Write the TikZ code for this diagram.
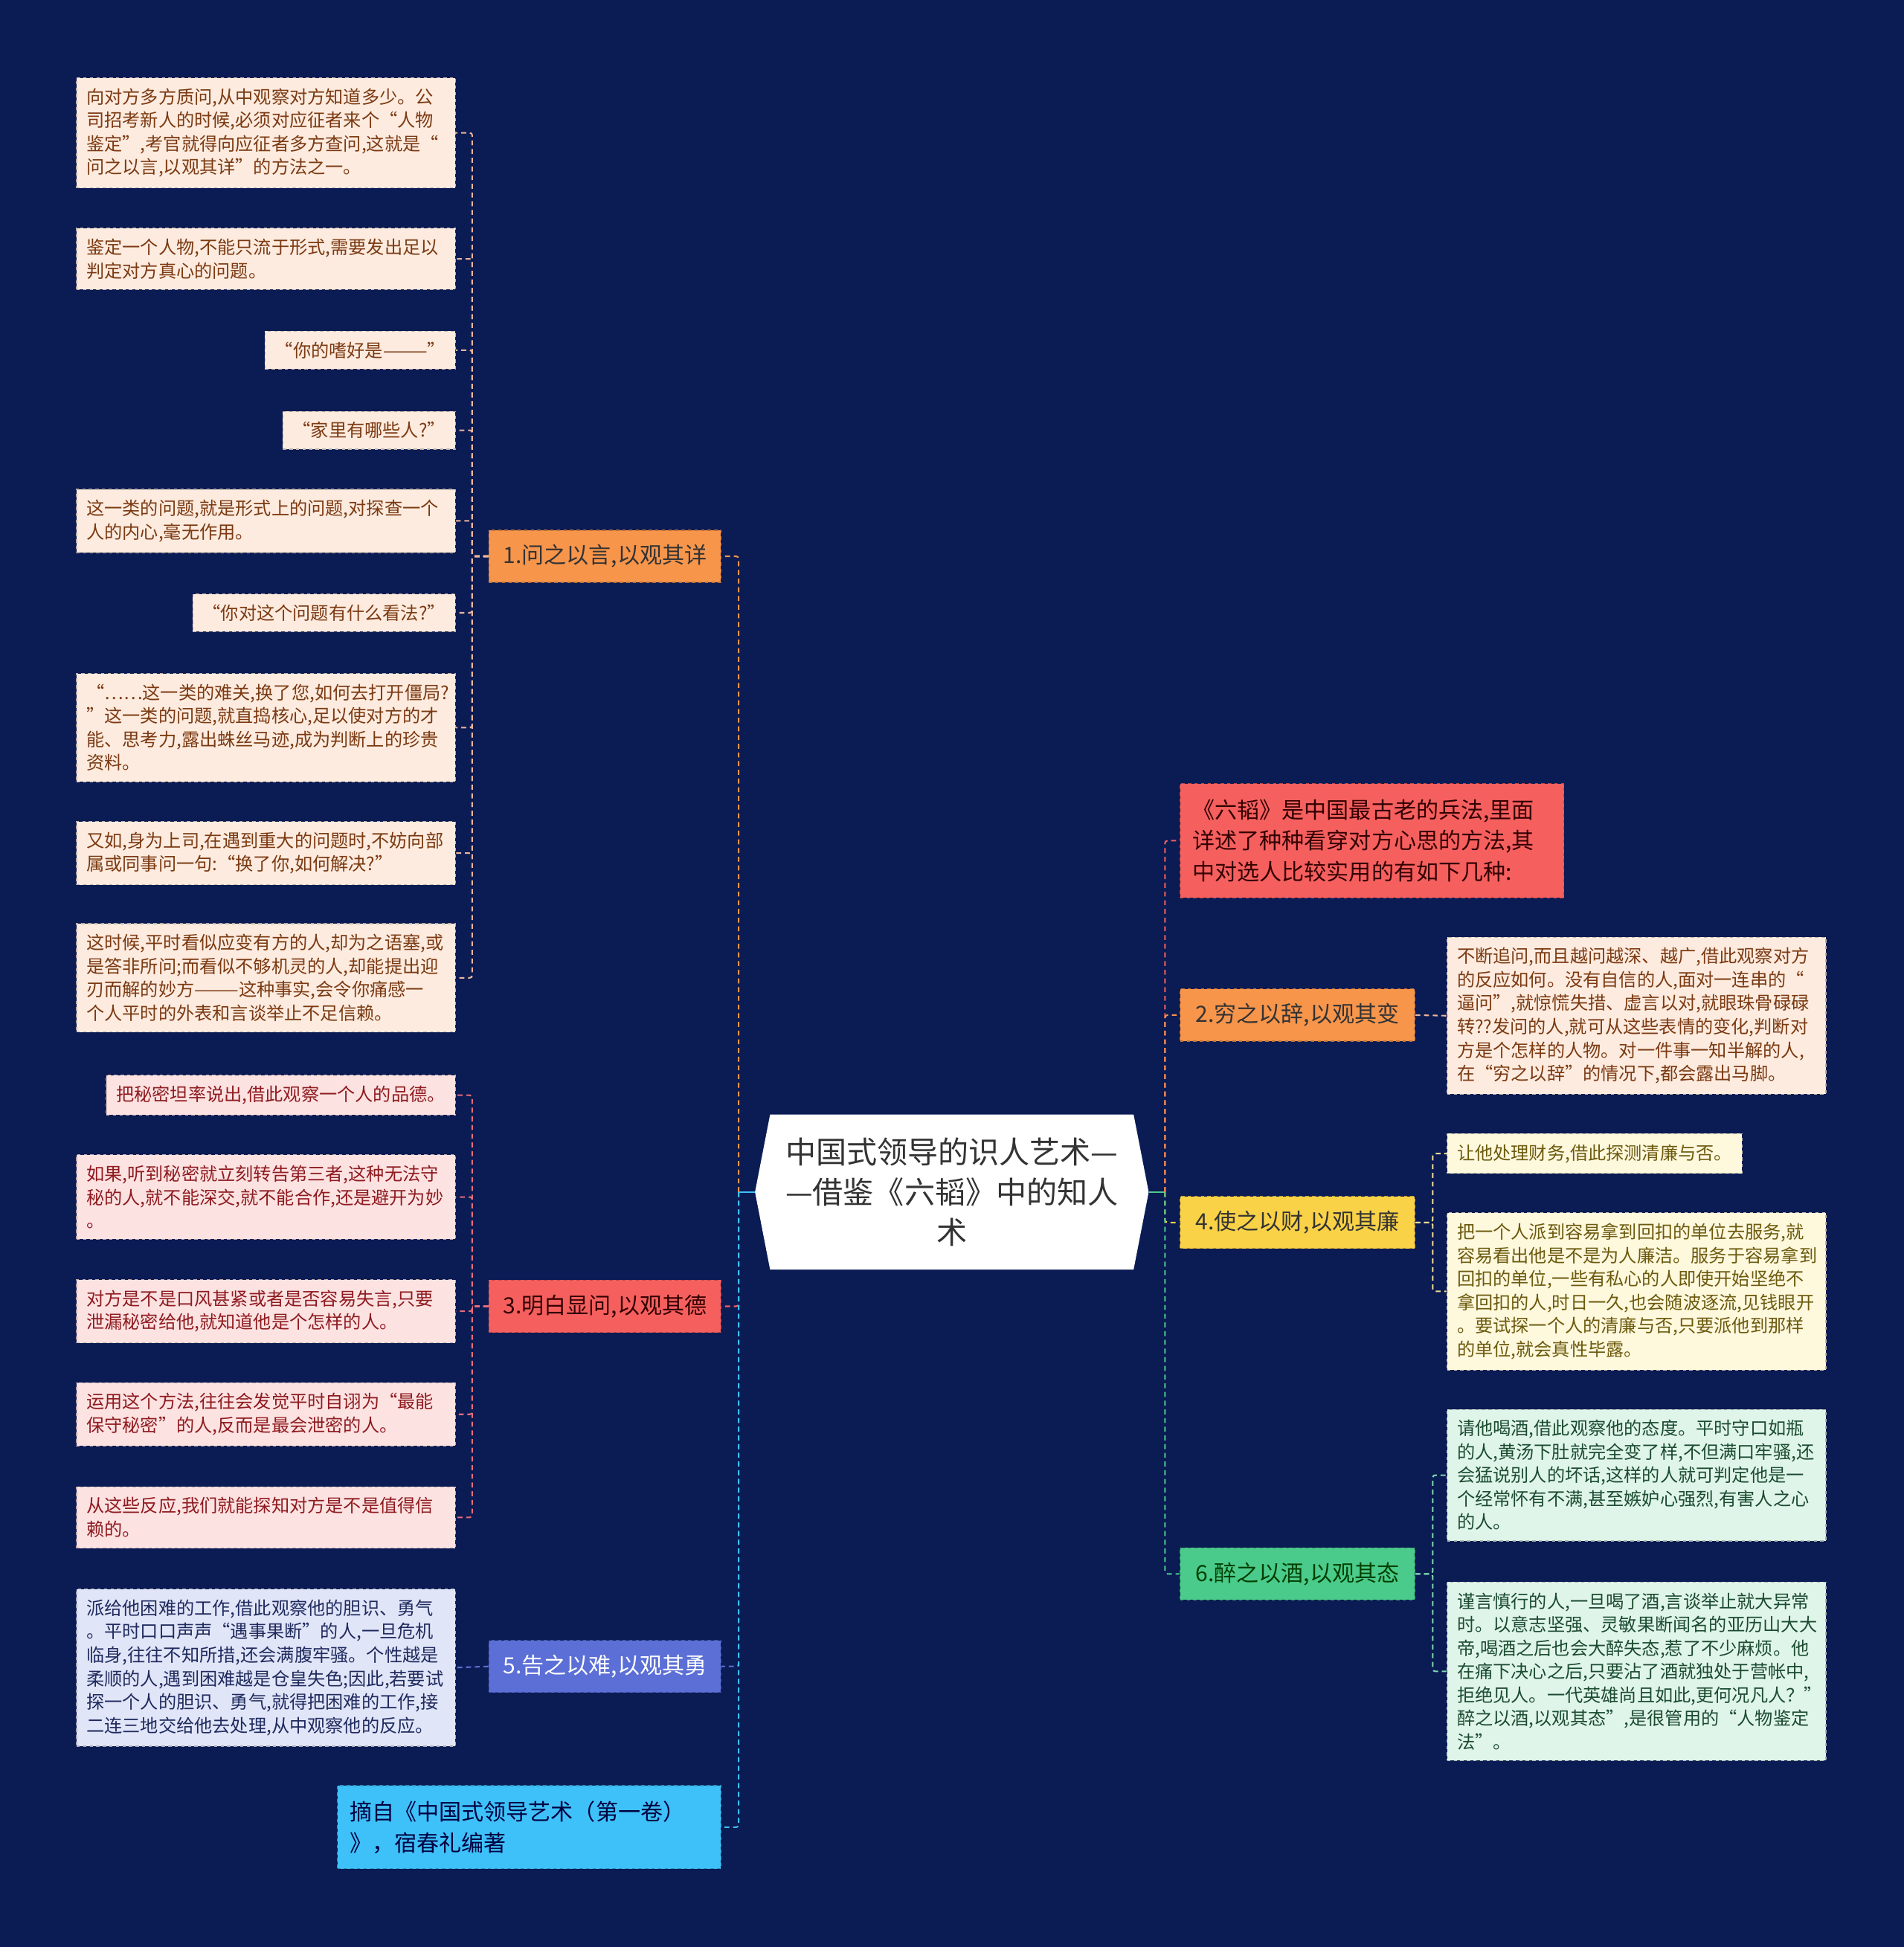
\documentclass[tikz,border=0pt]{standalone}
\usepackage{fontspec}
\setmainfont{Noto Sans CJK SC}
\usetikzlibrary{shapes.symbols}

\definecolor{bgnavy}{HTML}{0B1B54}
\definecolor{peachfill}{HTML}{FDEBDF}
\definecolor{peachtext}{HTML}{7B3A12}
\definecolor{peachlink}{HTML}{E9B59A}
\definecolor{pinkfill}{HTML}{FDE2E2}
\definecolor{pinktext}{HTML}{8E1B1F}
\definecolor{pinklink}{HTML}{E56D7B}
\definecolor{lavfill}{HTML}{E1E5F8}
\definecolor{lavtext}{HTML}{1F2B5E}
\definecolor{creamfill}{HTML}{FEF8DD}
\definecolor{creamtext}{HTML}{6C5A0E}
\definecolor{creamlink}{HTML}{F3DE95}
\definecolor{mintfill}{HTML}{E0F5EA}
\definecolor{minttext}{HTML}{1B4B30}
\definecolor{mintlink}{HTML}{7FD8B0}
\definecolor{orangeb}{HTML}{F7954B}
\definecolor{redb}{HTML}{F5605F}
\definecolor{blueb}{HTML}{5B6FD6}
\definecolor{skyb}{HTML}{3EC1F8}
\definecolor{yellowb}{HTML}{F9D247}
\definecolor{greenb}{HTML}{4BCB8B}
\definecolor{roottext}{HTML}{333333}

\newcommand\leaffont{\fontsize{16.5pt}{21.5pt}\selectfont}
\newcommand\branchfont{\fontsize{20.5pt}{28.4pt}\selectfont}
\newcommand\rootfont{\fontsize{28pt}{37pt}\selectfont}

\begin{document}
\begin{tikzpicture}[x=0.4mm, y=-0.4mm,
    leaf/.style={rectangle, dashed, line width=0.8pt, inner xsep=3.2mm, inner ysep=3.4mm, align=left, font=\leaffont},
    wide/.style={text width=115.6mm},
    peach/.style={fill=peachfill, draw=peachfill!75!black, text=peachtext},
    pink/.style={fill=pinkfill, draw=pinkfill!75!black, text=pinktext},
    lav/.style={fill=lavfill, draw=lavfill!75!black, text=lavtext},
    cream/.style={fill=creamfill, draw=creamfill!75!black, text=creamtext},
    mint/.style={fill=mintfill, draw=mintfill!75!black, text=minttext},
    branch/.style={rectangle, dashed, line width=0.8pt, minimum height=16.8mm, inner xsep=3.6mm, font=\branchfont},
    link/.style={dash pattern=on 1.6mm off 1.2mm, line width=1.4pt, rounded corners=0.8mm}]

    % Background
    \fill[bgnavy] (0,0) rectangle (1533,1568);
    \useasboundingbox (0,0) rectangle (1533,1568);

    % Central topic
    \node[signal, signal to=west and east, signal pointer angle=158, fill=white, minimum width=126.8mm, minimum height=50mm, inner sep=0pt, align=center, font=\rootfont, text=roottext] (root) at (766.5,960) {中国式领导的识人艺术—\\—借鉴《六韬》中的知人\\术};

    % Left branches
    \node[branch, fill=orangeb, draw=orangeb!75!black, text=black!80, minimum width=74.8mm, anchor=east] (b1) at (581,448) {1.问之以言,以观其详};
    \node[branch, fill=redb, draw=redb!75!black, text=black!80!red, minimum width=74.8mm, anchor=east] (b3) at (581,1052) {3.明白显问,以观其德};
    \node[branch, fill=blueb, draw=blueb!75!black, text=white, minimum width=74.8mm, anchor=east] (b5) at (581,1342) {5.告之以难,以观其勇};
    \node[branch, fill=skyb, draw=skyb!75!black, text=black!75!blue, text width=115.6mm, inner xsep=4mm, minimum height=26.8mm, align=left, anchor=east] (b7) at (581,1471.5) {摘自《中国式领导艺术（第一卷）\\》，宿春礼编著};

    % Leaves of 1
    \node[leaf, peach, wide, anchor=east] (l1a) at (367,107) {向对方多方质问,从中观察对方知道多少。公\\司招考新人的时候,必须对应征者来个“人物\\鉴定”,考官就得向应征者多方查问,这就是“\\问之以言,以观其详”的方法之一。};
    \node[leaf, peach, wide, anchor=east] (l1b) at (367,208.5) {鉴定一个人物,不能只流于形式,需要发出足以\\判定对方真心的问题。};
    \node[leaf, peach, anchor=east] (l1c) at (367,282) {“你的嗜好是———”};
    \node[leaf, peach, anchor=east] (l1d) at (367,346.5) {“家里有哪些人?”};
    \node[leaf, peach, wide, anchor=east] (l1e) at (367,419.5) {这一类的问题,就是形式上的问题,对探查一个\\人的内心,毫无作用。};
    \node[leaf, peach, anchor=east] (l1f) at (367,493.5) {“你对这个问题有什么看法?”};
    \node[leaf, peach, wide, anchor=east] (l1g) at (367,586) {“……这一类的难关,换了您,如何去打开僵局?\\”这一类的问题,就直捣核心,足以使对方的才\\能、思考力,露出蛛丝马迹,成为判断上的珍贵\\资料。};
    \node[leaf, peach, wide, anchor=east] (l1h) at (367,687) {又如,身为上司,在遇到重大的问题时,不妨向部\\属或同事问一句:“换了你,如何解决?”};
    \node[leaf, peach, wide, anchor=east] (l1i) at (367,787.5) {这时候,平时看似应变有方的人,却为之语塞,或\\是答非所问;而看似不够机灵的人,却能提出迎\\刃而解的妙方———这种事实,会令你痛感一\\个人平时的外表和言谈举止不足信赖。};

    % Leaves of 3
    \node[leaf, pink, anchor=east] (l3a) at (367,882) {把秘密坦率说出,借此观察一个人的品德。};
    \node[leaf, pink, wide, anchor=east] (l3b) at (367,964) {如果,听到秘密就立刻转告第三者,这种无法守\\秘的人,就不能深交,就不能合作,还是避开为妙\\。};
    \node[leaf, pink, wide, anchor=east] (l3c) at (367,1056) {对方是不是口风甚紧或者是否容易失言,只要\\泄漏秘密给他,就知道他是个怎样的人。};
    \node[leaf, pink, wide, anchor=east] (l3d) at (367,1139) {运用这个方法,往往会发觉平时自诩为“最能\\保守秘密”的人,反而是最会泄密的人。};
    \node[leaf, pink, wide, anchor=east] (l3e) at (367,1222) {从这些反应,我们就能探知对方是不是值得信\\赖的。};

    % Leaf of 5
    \node[leaf, lav, wide, anchor=east] (l5a) at (367,1343) {派给他困难的工作,借此观察他的胆识、勇气\\。平时口口声声“遇事果断”的人,一旦危机\\临身,往往不知所措,还会满腹牢骚。个性越是\\柔顺的人,遇到困难越是仓皇失色;因此,若要试\\探一个人的胆识、勇气,就得把困难的工作,接\\二连三地交给他去处理,从中观察他的反应。};

    % Right branches
    \node[branch, fill=redb, draw=redb!75!black, text=black!80!red, text width=115.6mm, inner xsep=4mm, minimum height=36.8mm, align=left, anchor=west] (r0) at (950,677) {《六韬》是中国最古老的兵法,里面\\详述了种种看穿对方心思的方法,其\\中对选人比较实用的有如下几种:};
    \node[branch, fill=orangeb, draw=orangeb!75!black, text=black!80, minimum width=75.6mm, anchor=west] (r2) at (950,817.5) {2.穷之以辞,以观其变};
    \node[branch, fill=yellowb, draw=yellowb!75!black, text=black!80, minimum width=75.6mm, anchor=west] (r4) at (950,984.5) {4.使之以财,以观其廉};
    \node[branch, fill=greenb, draw=greenb!75!black, text=black!75!green, minimum width=75.6mm, anchor=west] (r6) at (950,1267.5) {6.醉之以酒,以观其态};

    % Right leaves
    \node[leaf, peach, wide, anchor=west] (r2a) at (1165,818) {不断追问,而且越问越深、越广,借此观察对方\\的反应如何。没有自信的人,面对一连串的“\\逼问”,就惊慌失措、虚言以对,就眼珠骨碌碌\\转??发问的人,就可从这些表情的变化,判断对\\方是个怎样的人物。对一件事一知半解的人,\\在“穷之以辞”的情况下,都会露出马脚。};
    \node[leaf, cream, anchor=west] (r4a) at (1165,929) {让他处理财务,借此探测清廉与否。};
    \node[leaf, cream, wide, anchor=west] (r4b) at (1165,1040) {把一个人派到容易拿到回扣的单位去服务,就\\容易看出他是不是为人廉洁。服务于容易拿到\\回扣的单位,一些有私心的人即使开始坚绝不\\拿回扣的人,时日一久,也会随波逐流,见钱眼开\\。要试探一个人的清廉与否,只要派他到那样\\的单位,就会真性毕露。};
    \node[leaf, mint, wide, anchor=west] (r6a) at (1165,1188) {请他喝酒,借此观察他的态度。平时守口如瓶\\的人,黄汤下肚就完全变了样,不但满口牢骚,还\\会猛说别人的坏话,这样的人就可判定他是一\\个经常怀有不满,甚至嫉妒心强烈,有害人之心\\的人。};
    \node[leaf, mint, wide, anchor=west] (r6b) at (1165,1346) {谨言慎行的人,一旦喝了酒,言谈举止就大异常\\时。以意志坚强、灵敏果断闻名的亚历山大大\\帝,喝酒之后也会大醉失态,惹了不少麻烦。他\\在痛下决心之后,只要沾了酒就独处于营帐中,\\拒绝见人。一代英雄尚且如此,更何况凡人？”\\醉之以酒,以观其态”,是很管用的“人物鉴定\\法”。};

    % Trunk links
    \draw[line width=1.4pt, skyb] (root.west) -- ++(-13,0);
    \draw[line width=1.4pt, greenb] (root.east) -- ++(13,0);
    \draw[link, orangeb] (root.west) ++(-13,0) |- (b1.east);
    \draw[link, redb] (root.west) ++(-13,0) |- (b3.east);
    \draw[link, blueb] (root.west) ++(-13,0) |- (b5.east);
    \draw[link, skyb] (root.west) ++(-13,0) |- (b7.east);
    \draw[link, redb] (root.east) ++(13,0) |- (r0.west);
    \draw[link, orangeb] (root.east) ++(13,0) |- (r2.west);
    \draw[link, yellowb] (root.east) ++(13,0) |- (r4.west);
    \draw[link, greenb] (root.east) ++(13,0) |- (r6.west);

    % Leaf links
    \draw[link, peachlink] (b1.west) -- ++(-13,0) |- (l1a.east);
    \draw[link, peachlink] (b1.west) -- ++(-13,0) |- (l1b.east);
    \draw[link, peachlink] (b1.west) -- ++(-13,0) |- (l1c.east);
    \draw[link, peachlink] (b1.west) -- ++(-13,0) |- (l1d.east);
    \draw[link, peachlink] (b1.west) -- ++(-13,0) |- (l1e.east);
    \draw[link, peachlink] (b1.west) -- ++(-13,0) |- (l1f.east);
    \draw[link, peachlink] (b1.west) -- ++(-13,0) |- (l1g.east);
    \draw[link, peachlink] (b1.west) -- ++(-13,0) |- (l1h.east);
    \draw[link, peachlink] (b1.west) -- ++(-13,0) |- (l1i.east);
    \draw[link, pinklink] (b3.west) -- ++(-13,0) |- (l3a.east);
    \draw[link, pinklink] (b3.west) -- ++(-13,0) |- (l3b.east);
    \draw[link, pinklink] (b3.west) -- ++(-13,0) |- (l3c.east);
    \draw[link, pinklink] (b3.west) -- ++(-13,0) |- (l3d.east);
    \draw[link, pinklink] (b3.west) -- ++(-13,0) |- (l3e.east);
    \draw[link, blueb] (b5.west) -- (l5a.east);
    \draw[link, peachlink] (r2.east) -- (r2a.west);
    \draw[link, creamlink] (r4.east) -- ++(14,0) |- (r4a.west);
    \draw[link, creamlink] (r4.east) -- ++(14,0) |- (r4b.west);
    \draw[link, mintlink] (r6.east) -- ++(14,0) |- (r6a.west);
    \draw[link, mintlink] (r6.east) -- ++(14,0) |- (r6b.west);
\end{tikzpicture}
\end{document}
